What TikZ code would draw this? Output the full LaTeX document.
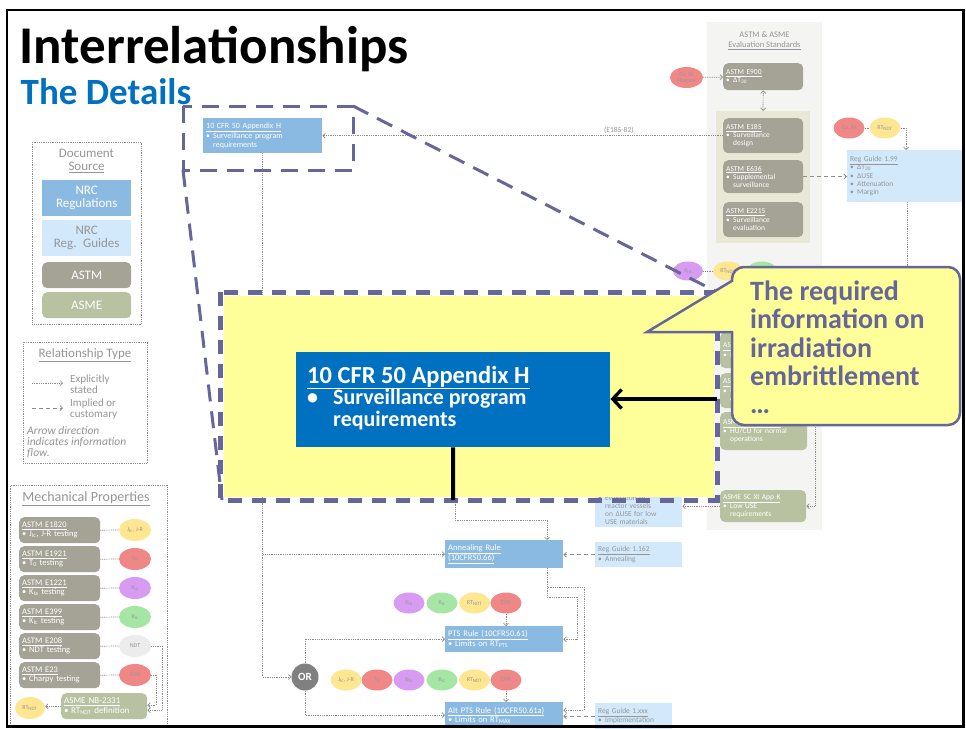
\documentclass[tikz,border=0pt]{standalone}
\usepackage{fontspec}
\setmainfont{Carlito}
\usetikzlibrary{arrows.meta,shapes.geometric}

\definecolor{slateline}{RGB}{102,102,153}
\definecolor{calloutfill}{RGB}{255,255,153}
\definecolor{deepblue}{RGB}{0,112,192}
\definecolor{regblue}{RGB}{138,185,226}
\definecolor{guideblue}{RGB}{210,233,252}
\definecolor{astmgray}{RGB}{165,162,150}
\definecolor{asmegreen}{RGB}{184,194,160}
\definecolor{fadetext}{RGB}{150,150,150}
\definecolor{linegray}{RGB}{140,140,140}
\definecolor{panelgray}{RGB}{244,244,242}
\definecolor{paneltan}{RGB}{233,231,214}
\definecolor{ovred}{RGB}{240,135,135}
\definecolor{ovyellow}{RGB}{255,230,145}
\definecolor{ovpurple}{RGB}{215,155,242}
\definecolor{ovgreen}{RGB}{165,230,165}
\definecolor{ovwhite}{RGB}{236,236,236}
\definecolor{ordark}{RGB}{128,128,128}

\newcommand\fsz[2]{\fontsize{#1}{#2}\selectfont}
\newcommand\bul{\makebox[7pt][l]{\textbullet}}
\newcommand\ind{\hspace*{7pt}}

\tikzset{
  every node/.style={inner sep=0pt},
  docbox/.style={anchor=north west, inner xsep=3pt, inner ysep=2pt, align=left, font=\fsz{7.5}{8.2}},
  regbox/.style={docbox, fill=regblue, text=white},
  guidebox/.style={docbox, fill=guideblue, text=fadetext},
  astmbox/.style={docbox, fill=astmgray, text=white, rounded corners=5pt},
  asmebox/.style={docbox, fill=asmegreen, text=white, rounded corners=5pt},
  prop/.style={ellipse, minimum width=31pt, minimum height=21pt, font=\fsz{6}{6.5}, text=fadetext, align=center},
  lnk/.style={draw=linegray, line width=0.7pt, dash pattern=on 1pt off 0.8pt},
  explink/.style={lnk, -{Straight Barb[length=2.5pt,width=5pt]}},
  dbllink/.style={lnk, {Straight Barb[length=2.5pt,width=5pt]}-{Straight Barb[length=2.5pt,width=5pt]}},
  implink/.style={draw=linegray, line width=0.8pt, dash pattern=on 4pt off 3pt, -{Straight Barb[length=2.5pt,width=5pt]}},
  zoomline/.style={draw=slateline, line width=3pt, dash pattern=on 17pt off 10pt},
  legendframe/.style={draw=linegray, line width=0.7pt, dash pattern=on 1pt off 0.8pt, anchor=north west},
}

\begin{document}
\begin{tikzpicture}[x=1pt,y=-1pt]
\useasboundingbox (0,0) rectangle (966,728);
\fill[white] (0,0) rectangle (966,728);

% ---------- evaluation standards panel ----------
\fill[panelgray] (707,22) rectangle (822,530);
\fill[paneltan] (716,111) rectangle (810,243);
\node[font=\fsz{8.5}{10}, text=fadetext, align=center] (evaltitle) at (764.5,41) {ASTM \& ASME\\\underline{Evaluation Standards}};
\node[astmbox, text width=74pt, minimum height=27pt] (e900) at (723,63) {\underline{ASTM E900}\\\bul ΔT\textsubscript{30}};
\node[prop, fill=ovred, minimum width=33pt] (chem1) at (686.5,77.5) {Cu, Ni\\Fluence};
\draw[explink] (chem1) -- (e900);
\coordinate (tantop) at (763,111);
\draw[dbllink] (e900.south) -- (tantop);
\node[astmbox, text width=74pt, minimum height=35pt] (e185) at (723,118) {\underline{ASTM E185}\\\bul Surveillance\\\ind design};
\node[astmbox, text width=74pt, minimum height=33pt] (e636) at (723,160) {\underline{ASTM E636}\\\bul Supplemental\\\ind surveillance};
\node[astmbox, text width=74pt, minimum height=35pt] (e2215) at (723,202) {\underline{ASTM E2215}\\\bul Surveillance\\\ind evaluation};

\node[guidebox, text width=110pt, minimum height=52pt] (rg199) at (847,150) {\underline{Reg Guide 1.99}\\\bul ΔT\textsubscript{30}\\\bul ΔUSE\\\bul Attenuation\\\bul Margin};
\node[prop, fill=ovred] (chem2) at (849,128) {Cu, Ni};
\node[prop, fill=ovyellow] (rt2) at (885,128) {RT\textsubscript{NDT}};
\draw[lnk] (chem2) -- (rt2);
\coordinate (rgin) at (906,150);
\draw[explink] (rt2.east) -| (rgin);
\draw[implink] (e636.east) -- (e636.east -| rg199.west);

\node[prop, fill=ovpurple, minimum width=30pt, minimum height=19pt] (kia3) at (688,271) {K\textsubscript{Ia}};
\node[prop, fill=ovyellow, minimum width=30pt, minimum height=19pt] (rt3) at (728,271) {RT\textsubscript{NDT}};
\node[prop, fill=ovgreen, minimum width=30pt, minimum height=19pt] (kic3) at (762,271) {K\textsubscript{Ic}};
\draw[lnk] (kia3) -- (rt3);
\draw[lnk] (rt3) -- (kic3);

\node[asmebox, text width=81pt, minimum height=36pt] (appa) at (720,332) {\underline{ASME SC XI App A}\\\bul Flaw evaluation};
\node[asmebox, text width=81pt, minimum height=35pt] (appe) at (720,373) {\underline{ASME SC XI App E}\\\bul Unanticipated\\\ind operations};
\node[asmebox, text width=81pt, minimum height=38pt] (appg) at (720,412) {\underline{ASME SC XI App G}\\\bul HU/CU for normal\\\ind operations};
\node[asmebox, text width=80pt, minimum height=32pt] (appk) at (720,490) {\underline{ASME SC XI App K}\\\bul Low USE\\\ind requirements};
\node[guidebox, text width=81pt, anchor=south west] (rg1161) at (595,527) {\underline{Reg Guide 1.161}\\\bul Evaluation of\\\ind reactor vessels\\\ind on ΔUSE for low\\\ind USE materials};
\draw[explink] (appk.west) -- (appk.west -| rg1161.east);
\coordinate (k1) at (907,350);
\coordinate (k2) at (815,350);
\draw[explink] (rg199.south -| k1) -- (k1) -- (k2) |- (appk.east);

% ---------- regulation chain ----------
\node[regbox, text width=113pt, minimum height=35pt, font=\fsz{8}{8.6}] (appH) at (203,118) {\underline{10 CFR 50 Appendix H}\\\bul Surveillance program\\\ind requirements};
\draw[explink] (e185.west) -- (e185.west -| appH.east) node[pos=0.26, above=2pt, font=\fsz{7.5}{8}, text=fadetext] (e185lbl) {(E185-82)};

\node[regbox, text width=112pt, minimum height=28pt, font=\fsz{8.5}{9.5}] (ann) at (445,540) {\underline{Annealing Rule}\\\underline{(10CFR50.66)}};
\node[guidebox, text width=81pt, minimum height=25pt] (rg1162) at (595,542) {\underline{Reg Guide 1.162}\\\bul Annealing};
\draw[implink] (rg1162.west) -- (rg1162.west -| ann.east);

\node[regbox, text width=112pt, minimum height=26pt, font=\fsz{8.5}{9.5}] (pts) at (445,626) {\underline{PTS Rule (10CFR50.61)}\\\bul Limits on RT\textsubscript{PTS}};
\node[regbox, text width=112pt, minimum height=26pt, font=\fsz{8.5}{9.5}] (altpts) at (445,702) {\underline{Alt PTS Rule (10CFR50.61a)}\\\bul Limits on RT\textsubscript{MAX}};
\node[guidebox, text width=71pt, minimum height=26pt] (rgxxx) at (595,703) {\underline{Reg Guide 1.xxx}\\\bul Implementation};
\draw[implink] (rgxxx.west) -- (rgxxx.west -| altpts.east);

\node[circle, fill=ordark, minimum size=27pt, text=white, font=\bfseries\fsz{11}{11}] (orgate) at (305,677) {OR};
\draw[explink] (appH.south) |- (ann.west);
\draw[explink] (appH.south) |- (orgate.west);
\draw[explink] (orgate.north) |- (pts.west);
\draw[explink] (orgate.south) |- (altpts.west);

\coordinate (hb) at (455,500);
\coordinate (hbend) at (547,520);
\draw[explink] (hb) |- (hbend) -- (hbend |- ann.north);
\coordinate (annout) at (547,568);
\coordinate (ptsbend) at (577,597);
\coordinate (altbend) at (584,587);
\draw[explink] (annout) |- (ptsbend) |- (pts.east);
\draw[explink] (annout) |- (altbend) |- ([yshift=5pt]altpts.east);

% property ovals feeding the PTS rules
\node[prop, fill=ovpurple] (kiaP) at (409,603) {K\textsubscript{Ia}};
\node[prop, fill=ovgreen] (kicP) at (442,603) {K\textsubscript{Ic}};
\node[prop, fill=ovyellow] (rtP) at (474.5,603) {RT\textsubscript{NDT}};
\node[prop, fill=ovred] (cvnP) at (506,603) {CVN};
\draw[explink] (cvnP.south) -- (cvnP.south |- pts.north);

\node[prop, fill=ovyellow] (jrA) at (346,680) {J\textsubscript{Ic}, J-R};
\node[prop, fill=ovred] (t0A) at (377,680) {T\textsubscript{0}};
\node[prop, fill=ovpurple] (kiaA) at (409,680) {K\textsubscript{Ia}};
\node[prop, fill=ovgreen] (kicA) at (442,680) {K\textsubscript{Ic}};
\node[prop, fill=ovyellow] (rtA) at (474.5,680) {RT\textsubscript{NDT}};
\node[prop, fill=ovred] (cvnA) at (506,680) {CVN};
\draw[explink] (cvnA.south) -- (cvnA.south |- altpts.north);

% ---------- legend: document source ----------
\node[legendframe, minimum width=109pt, minimum height=182pt] (srcframe) at (32,142) {};
\node[font=\fsz{13}{13}, text=fadetext, align=center] (srctitle) at (86.5,161) {Document\\\underline{Source}};
\node[regbox, text width=83pt, minimum height=36pt, align=center, font=\fsz{13}{13}] (lgreg) at (42,180) {NRC\\Regulations};
\node[guidebox, text width=83pt, minimum height=36pt, align=center, font=\fsz{13}{13}] (lgguide) at (42,220) {NRC\\Reg. Guides};
\node[astmbox, text width=83pt, minimum height=26pt, align=center, font=\fsz{13}{13}] (lgastm) at (42,262) {ASTM};
\node[asmebox, text width=83pt, minimum height=26pt, align=center, font=\fsz{13}{13}] (lgasme) at (42,292) {ASME};

% ---------- legend: relationship type ----------
\node[legendframe, minimum width=124pt, minimum height=121pt] (relframe) at (23,342) {};
\node[font=\fsz{13}{13}, text=fadetext] (reltitle) at (85,355) {\underline{Relationship Type}};
\coordinate (ex1) at (32,383);
\coordinate (ex2) at (63,383);
\draw[explink] (ex1) -- (ex2);
\node[anchor=west, align=left, font=\fsz{11}{11}, text=fadetext] (exlabel) at (70,384) {Explicitly\\stated};
\coordinate (im1) at (32,408);
\coordinate (im2) at (63,408);
\draw[implink] (im1) -- (im2);
\node[anchor=west, align=left, font=\fsz{11}{11}, text=fadetext] (imlabel) at (70,409) {Implied or\\customary};
\node[anchor=north west, align=left, font=\itshape\fsz{11.5}{11}, text=fadetext] (flownote) at (27,426) {Arrow direction\\indicates information\\flow.};

% ---------- legend: mechanical properties ----------
\node[legendframe, minimum width=157pt, minimum height=240pt] (mechframe) at (10,485) {};
\node[font=\fsz{14}{14}, text=fadetext] (mechtitle) at (86,499) {\underline{Mechanical Properties}};
\node[astmbox, text width=75pt, minimum height=26pt, font=\fsz{8.5}{9}] (m1) at (19,517) {\underline{ASTM E1820}\\\bul J\textsubscript{Ic}, J-R testing};
\node[astmbox, text width=75pt, minimum height=26pt, font=\fsz{8.5}{9}] (m2) at (19,546) {\underline{ASTM E1921}\\\bul T\textsubscript{0} testing};
\node[astmbox, text width=75pt, minimum height=26pt, font=\fsz{8.5}{9}] (m3) at (19,575) {\underline{ASTM E1221}\\\bul K\textsubscript{Ia} testing};
\node[astmbox, text width=75pt, minimum height=26pt, font=\fsz{8.5}{9}] (m4) at (19,604) {\underline{ASTM E399}\\\bul K\textsubscript{Ic} testing};
\node[astmbox, text width=75pt, minimum height=26pt, font=\fsz{8.5}{9}] (m5) at (19,633) {\underline{ASTM E208}\\\bul NDT testing};
\node[astmbox, text width=75pt, minimum height=26pt, font=\fsz{8.5}{9}] (m6) at (19,662) {\underline{ASTM E23}\\\bul Charpy testing};
\node[prop, fill=ovyellow, minimum width=32pt, minimum height=22pt] (p1) at (135,530) {J\textsubscript{Ic}, J-R};
\node[prop, fill=ovred, minimum width=32pt, minimum height=22pt] (p2) at (135,559) {T\textsubscript{0}};
\node[prop, fill=ovpurple, minimum width=32pt, minimum height=22pt] (p3) at (135,588) {K\textsubscript{Ia}};
\node[prop, fill=ovgreen, minimum width=32pt, minimum height=22pt] (p4) at (135,617) {K\textsubscript{Ic}};
\node[prop, fill=ovwhite, minimum width=32pt, minimum height=22pt] (p5) at (135,646) {NDT};
\node[prop, fill=ovred, minimum width=32pt, minimum height=22pt] (p6) at (135,675) {CVN};
\draw[lnk] (m1.east) -- (p1.west);
\draw[lnk] (m2.east) -- (p2.west);
\draw[lnk] (m3.east) -- (p3.west);
\draw[lnk] (m4.east) -- (p4.west);
\draw[lnk] (m5.east) -- (p5.west);
\draw[lnk] (m6.east) -- (p6.west);
\node[asmebox, text width=80pt, minimum height=26pt, font=\fsz{9}{9.5}] (nb) at (61,693) {\underline{ASME NB-2331}\\\bul RT\textsubscript{NDT} definition};
\node[prop, fill=ovyellow, minimum width=30pt, minimum height=22pt] (rtnb) at (30,708) {RT\textsubscript{NDT}};
\draw[explink] (nb.west) -- (nb.west -| rtnb.east);
\draw[explink] (p5.east) -- ++(11,0) |- ([yshift=-4pt]nb.east);
\draw[explink] (p6.east) -- ++(5,0) |- ([yshift=1pt]nb.east);

% ---------- titles ----------
\node[anchor=base west, font=\bfseries\fsz{53}{53}] (title) at (19.5,63.5) {Interrelationships};
\node[anchor=base west, font=\bfseries\fsz{37}{37}, text=deepblue] (subtitle) at (20.5,104.5) {The Details};

% ---------- magnifier outline ----------
\coordinate (sa) at (183,106);
\coordinate (sb) at (353,170);
\coordinate (sc) at (353,106);
\coordinate (sd) at (183,170);
\coordinate (ba) at (222,500);
\coordinate (bb) at (717,292);
\draw[zoomline] (sa) rectangle (sb);
\draw[zoomline] (sd) -- (ba);
\draw[zoomline] (sc) -- (bb);

% ---------- enlarged view ----------
\fill[calloutfill] (224,295.5) rectangle (714,496.5);
\draw[draw=slateline, line width=5pt, dash pattern=on 14pt off 10pt] (220,292) rectangle (717,500);
\node[fill=deepblue, minimum width=314pt, minimum height=95pt, anchor=north west] (apph) at (296,352) {};
\node[anchor=base west, align=left, text=white, font=\bfseries\fsz{22}{21.7}] (apphtext) at (307,426.5) {{\fsz{24.5}{21.7}\underline{10 CFR 50 Appendix H}}\\\makebox[26pt][l]{\textbullet}Surveillance program\\\hspace*{26pt}requirements};
\coordinate (feed) at (717,399);
\coordinate (focusbottom) at (453,500);
\draw[line width=3.3pt, -{Straight Barb[length=9pt,width=19pt]}] (feed) -- (apph.east |- feed);
\draw[line width=4pt] (apph.south) -- (focusbottom);

% ---------- callout ----------
\draw[draw=slateline, fill=calloutfill, line width=2.5pt, rounded corners=12pt] (732,267) rectangle (960,425);
\coordinate (ctip) at (647,332);
\coordinate (cup) at (732.6,280.5);
\coordinate (clow) at (733,332);
\fill[calloutfill] (ctip) -- (731,281.5) -- (736,281.5) -- (736,332) -- cycle;
\draw[slateline, line width=2.5pt, line join=miter] (cup) -- (ctip) -- (clow);
\node[anchor=base west, align=left, text=slateline, font=\bfseries\fsz{28}{28.2}] (calltext) at (750,413.5) {The required\\information on\\irradiation\\embrittlement\\…};

% ---------- slide frame ----------
\draw[line width=2.5pt] (7,10) rectangle (963.5,726.5);
\end{tikzpicture}
\end{document}
